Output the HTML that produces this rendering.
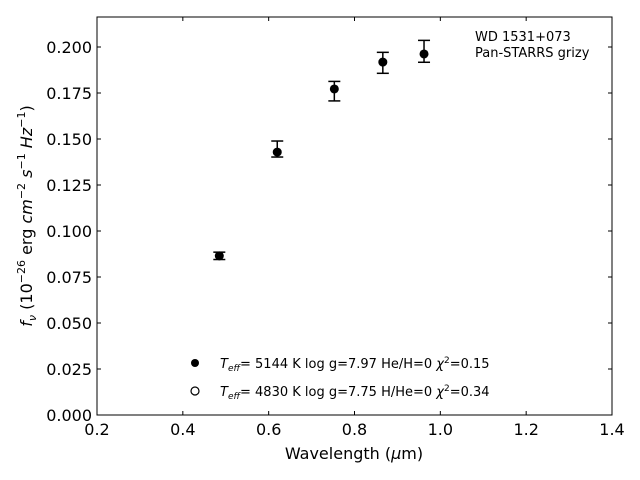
<!DOCTYPE html>
<html><head><meta charset="utf-8"><style>
html,body{margin:0;padding:0;background:#fff;}
svg{display:block;font-family:"DejaVu Sans","Liberation Sans",sans-serif;}
</style></head><body>
<svg id="chart" width="640" height="480" viewBox="0 0 640 480">
<g id="axes"></g>
<g id="marks"></g>
<text x="475" y="41" font-size="13">WD 1531+073</text>
<text x="475" y="57" font-size="13">Pan-STARRS grizy</text>
<g>
<circle cx="195" cy="363" r="4" fill="#000"/>
<text x="220" y="368" font-size="13"><tspan font-style="italic">T</tspan><tspan font-style="italic" font-size="9" dy="3">eff</tspan><tspan dy="-3">=  5144 K  log g=7.97  He/H=0  </tspan><tspan font-style="italic">χ</tspan><tspan font-size="9" dy="-5">2</tspan><tspan dy="5">=0.15</tspan></text>
<circle cx="195" cy="391" r="4" fill="#fff" stroke="#000" stroke-width="1.2"/>
<text x="220" y="396" font-size="13"><tspan font-style="italic">T</tspan><tspan font-style="italic" font-size="9" dy="3">eff</tspan><tspan dy="-3">=  4830 K  log g=7.75  H/He=0  </tspan><tspan font-style="italic">χ</tspan><tspan font-size="9" dy="-5">2</tspan><tspan dy="5">=0.34</tspan></text>
</g>
<text x="354" y="459" font-size="16" text-anchor="middle">Wavelength (<tspan font-style="italic">μ</tspan>m)</text>
<text transform="translate(32,216) rotate(-90)" font-size="16" text-anchor="middle"><tspan font-style="italic">f</tspan><tspan font-style="italic" font-size="11" dy="4">ν</tspan><tspan dy="-4"> (10</tspan><tspan font-size="11" dy="-7">−26</tspan><tspan dy="7"> erg </tspan><tspan font-style="italic">cm</tspan><tspan font-size="11" dy="-7">−2</tspan><tspan dy="7"> </tspan><tspan font-style="italic">s</tspan><tspan font-size="11" dy="-7">−1</tspan><tspan dy="7"> </tspan><tspan font-style="italic">Hz</tspan><tspan font-size="11" dy="-7">−1</tspan><tspan dy="7">)</tspan></text>
</svg>
<script>
const wavelengths=[0.485,0.62,0.753,0.866,0.962];
const fluxes=[0.0865,0.1429,0.1772,0.1918,0.1962];
const errUp=[0.0020,0.0060,0.0041,0.0053,0.0074];
const errDown=[0.0020,0.0027,0.0065,0.0061,0.0045];
const xTicks=[0.2,0.4,0.6,0.8,1.0,1.2,1.4];
const yTicks=[0,0.025,0.05,0.075,0.1,0.125,0.15,0.175,0.2];
const yTickLabels=["0.000","0.025","0.050","0.075","0.100","0.125","0.150","0.175","0.200"];
const L=97,R=612,T=17,B=415;
const X=v=>L+(v-0.2)/(1.2)*(R-L);
const Y=v=>B-v*1840;
const NS="http://www.w3.org/2000/svg";
function mk(tag,attrs,parent){const e=document.createElementNS(NS,tag);for(const k in attrs)e.setAttribute(k,attrs[k]);parent.appendChild(e);return e;}
const ax=document.getElementById('axes');
const frame=mk('rect',{x:L,y:T,width:R-L,height:B-T,fill:'none',stroke:'#000','stroke-width':1},ax);


xTicks.forEach(v=>{const x=X(v);
 mk('line',{x1:x,x2:x,y1:B,y2:B-4,stroke:'#000'},ax);
 mk('line',{x1:x,x2:x,y1:T,y2:T+4,stroke:'#000'},ax);
 const t=mk('text',{x:x,y:B+20,'font-size':16,'text-anchor':'middle'},ax);t.textContent=v.toFixed(1);
 
 
});
yTicks.forEach((v,i)=>{const y=Y(v);
 mk('line',{x1:L,x2:L+4,y1:y,y2:y,stroke:'#000'},ax);
 mk('line',{x1:R,x2:R-4,y1:y,y2:y,stroke:'#000'},ax);
 const t=mk('text',{x:L-5,y:y+6,'font-size':16,'text-anchor':'end'},ax);t.textContent=yTickLabels[i];
 
 
});
const mg=document.getElementById('marks');
wavelengths.forEach((w,i)=>{const x=X(w),y=Y(fluxes[i]),yt=Y(fluxes[i]+errUp[i]),yb=Y(fluxes[i]-errDown[i]);
 const g=mk('g',{},mg);
 
 
 mk('line',{x1:x,x2:x,y1:yt,y2:yb,stroke:'#000','stroke-width':1.5},g);
 mk('line',{x1:x-6,x2:x+6,y1:yt,y2:yt,stroke:'#000','stroke-width':1.5},g);
 mk('line',{x1:x-6,x2:x+6,y1:yb,y2:yb,stroke:'#000','stroke-width':1.5},g);
 mk('circle',{cx:x,cy:y,r:4.5,fill:'#000'},g);
});
</script>
</body></html>
